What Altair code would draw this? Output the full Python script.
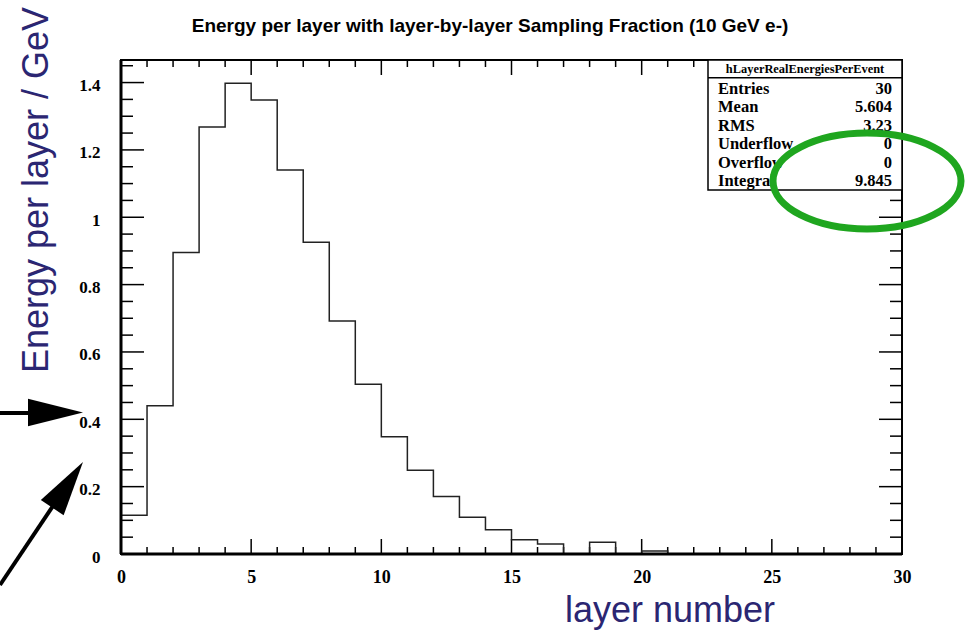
import altair as alt
import numpy as np
import pandas as pd

# Energy deposited in each of the 30 calorimeter layers (GeV), 10 GeV electrons
layer_low = list(range(30))
energy = [0.115, 0.440, 0.895, 1.268, 1.398, 1.348, 1.140, 0.926, 0.692, 0.504,
          0.348, 0.249, 0.171, 0.109, 0.072, 0.042, 0.030, 0.0, 0.035, 0.0,
          0.009, 0.0, 0.0, 0.0, 0.0, 0.0, 0.0, 0.0, 0.0, 0.0]

x_tick_labels = [0, 5, 10, 15, 20, 25, 30]
y_tick_labels = [0, 0.2, 0.4, 0.6, 0.8, 1, 1.2, 1.4]

hist_name = "hLayerRealEnergiesPerEvent"
stat_names = ["Entries", "Mean", "RMS", "Underflow", "Overflow", "Integral"]
stat_values = ["30", "5.604", "3.23", "0", "0", "9.845"]

title_text = "Energy per layer with layer-by-layer Sampling Fraction (10 GeV e-)"
y_title = "Energy per layer / GeV"
x_title = "layer number"

# plot-area geometry (pixels)
W, H = 781, 494
X_MAX, Y_MAX = 30, 1.467
NAVY = "#2b2672"
GREEN = "#1fa61f"

xs = alt.Scale(domain=[0, X_MAX], nice=False, zero=False)
ys = alt.Scale(domain=[0, Y_MAX], nice=False, zero=False)
label_style = dict(labelFont="Liberation Serif", labelFontWeight="bold",
                   labelColor="black", ticks=False, domain=False, grid=False,
                   labelFlush=False, format="~g", title=None)
x_axis = alt.Axis(values=x_tick_labels, labelFontSize=18, labelPadding=14, **label_style)
y_axis = alt.Axis(values=y_tick_labels, labelFontSize=17, labelPadding=21,
                  labelOffset=3, **label_style)

# step outline of the histogram: start on the axis, then one point per bin edge
xs_pts = [0] + layer_low + [X_MAX]
ys_pts = [0.0] + energy + [energy[-1]]
hist_df = pd.DataFrame({"x": xs_pts, "y": ys_pts, "order": range(len(xs_pts))})

hist = alt.Chart(hist_df).mark_line(
    interpolate="step-after", color="#222222", strokeWidth=1.5
).encode(
    x=alt.X("x:Q", scale=xs, axis=x_axis),
    y=alt.Y("y:Q", scale=ys, axis=y_axis),
    order="order:Q",
)

# ROOT-style inward ticks on all four sides
x_minor = [i for i in range(X_MAX + 1) if i % 5]
x_major = [i for i in range(0, X_MAX + 1, 5)]
y_all = np.round(np.arange(0, 30) * 0.05, 2)
y_minor = [float(v) for i, v in enumerate(y_all) if i % 4]
y_major = [float(v) for i, v in enumerate(y_all) if i % 4 == 0]


def x_ticks(values, length):
    df = pd.DataFrame({"x": values})
    base = alt.Chart(df).mark_rule(color="black", strokeWidth=1.5)
    enc = alt.X("x:Q", scale=xs, axis=x_axis)
    return [
        base.encode(x=enc, y=alt.value(H), y2=alt.value(H - length)),
        base.encode(x=enc, y=alt.value(0), y2=alt.value(length)),
    ]


def y_ticks(values, length):
    df = pd.DataFrame({"y": values})
    base = alt.Chart(df).mark_rule(color="black", strokeWidth=1.5)
    enc = alt.Y("y:Q", scale=ys, axis=y_axis)
    return [
        base.encode(y=enc, x=alt.value(0), x2=alt.value(length)),
        base.encode(y=enc, x=alt.value(W), x2=alt.value(W - length)),
    ]


ticks = x_ticks(x_minor, 7) + x_ticks(x_major, 15) + y_ticks(y_minor, 12) + y_ticks(y_major, 23)

one = pd.DataFrame({"k": [0]})

# heavier left and bottom axis lines
axis_lines = [
    alt.Chart(one).mark_rule(color="black", strokeWidth=3).encode(
        x=alt.value(0), y=alt.value(0), y2=alt.value(H)),
    alt.Chart(one).mark_rule(color="black", strokeWidth=3).encode(
        x=alt.value(0), x2=alt.value(W), y=alt.value(H)),
]

# statistics box in the top-right corner
BX0, BX1, BY0, BY1 = 587, W, 0, 130
stats = [
    alt.Chart(one).mark_rect(fill="white", stroke="black", strokeWidth=1.5).encode(
        x=alt.value(BX0), x2=alt.value(BX1), y=alt.value(BY0), y2=alt.value(BY1)),
    alt.Chart(one).mark_rule(color="black", strokeWidth=1.5).encode(
        x=alt.value(BX0), x2=alt.value(BX1), y=alt.value(17.7)),
    alt.Chart(one).mark_text(
        text=hist_name, font="Liberation Serif", fontWeight="bold", fontSize=12.4,
        align="center", baseline="alphabetic", color="black"
    ).encode(x=alt.value((BX0 + BX1) / 2), y=alt.value(12.5)),
]
for i, (name, val) in enumerate(zip(stat_names, stat_values)):
    row_y = 33.5 + 18.5 * i
    stats.append(alt.Chart(one).mark_text(
        text=name, font="Liberation Serif", fontWeight="bold", fontSize=16.5,
        align="left", baseline="alphabetic", color="black"
    ).encode(x=alt.value(597), y=alt.value(row_y)))
    stats.append(alt.Chart(one).mark_text(
        text=val, font="Liberation Serif", fontWeight="bold", fontSize=16.5,
        align="right", baseline="alphabetic", color="black"
    ).encode(x=alt.value(771), y=alt.value(row_y)))

# green ellipse around the integral
k, ry = 0.5523, 0.51
ellipse_path = (
    f"M -1 0 C -1 {-k*ry:.4f} {-k} {-ry} 0 {-ry} "
    f"C {k} {-ry} 1 {-k*ry:.4f} 1 0 "
    f"C 1 {k*ry:.4f} {k} {ry} 0 {ry} "
    f"C {-k} {ry} -1 {k*ry:.4f} -1 0 Z"
)
ellipse = alt.Chart(one).mark_point(
    shape=ellipse_path, filled=False, stroke=GREEN, strokeWidth=7,
    size=188 ** 2, opacity=1
).encode(x=alt.value(746), y=alt.value(121))

# black arrows pointing at the low end of the y axis
head_path = "M 1 0 L -1 -0.5 L -1 0.5 Z"
arrows = [
    alt.Chart(one).mark_rule(color="black", strokeWidth=4).encode(
        x=alt.value(-121), x2=alt.value(-66), y=alt.value(353), y2=alt.value(353)),
    alt.Chart(one).mark_point(
        shape=head_path, filled=True, color="black", size=55 ** 2, angle=0, opacity=1
    ).encode(x=alt.value(-65.5), y=alt.value(352.5)),
    alt.Chart(one).mark_rule(color="black", strokeWidth=4).encode(
        x=alt.value(-121), x2=alt.value(-54), y=alt.value(525), y2=alt.value(425)),
    alt.Chart(one).mark_point(
        shape=head_path, filled=True, color="black", size=55 ** 2, angle=304, opacity=1
    ).encode(x=alt.value(-53.4), y=alt.value(424.8)),
]

titles = [
    alt.Chart(one).mark_text(
        text=title_text, font="Liberation Sans", fontWeight="bold", fontSize=19,
        align="center", baseline="alphabetic", color="black"
    ).encode(x=alt.value(369), y=alt.value(-28.5)),
    alt.Chart(one).mark_text(
        text=y_title, font="Liberation Sans", fontSize=36, angle=270,
        align="center", baseline="middle", color=NAVY
    ).encode(x=alt.value(-84), y=alt.value(130)),
    alt.Chart(one).mark_text(
        text=x_title, font="Liberation Sans", fontSize=36,
        align="left", baseline="alphabetic", color=NAVY
    ).encode(x=alt.value(444), y=alt.value(562)),
]

chart = alt.layer(
    *ticks, hist, *axis_lines, *stats, ellipse, *arrows, *titles
).properties(
    width=W,
    height=H,
    autosize=alt.AutoSizeParams(type="none"),
    padding={"left": 121, "top": 60, "right": 63, "bottom": 77},
    background="white",
).configure_view(stroke="black", strokeWidth=2)

chart.save("out.html", embed_options={"renderer": "svg", "actions": False})
